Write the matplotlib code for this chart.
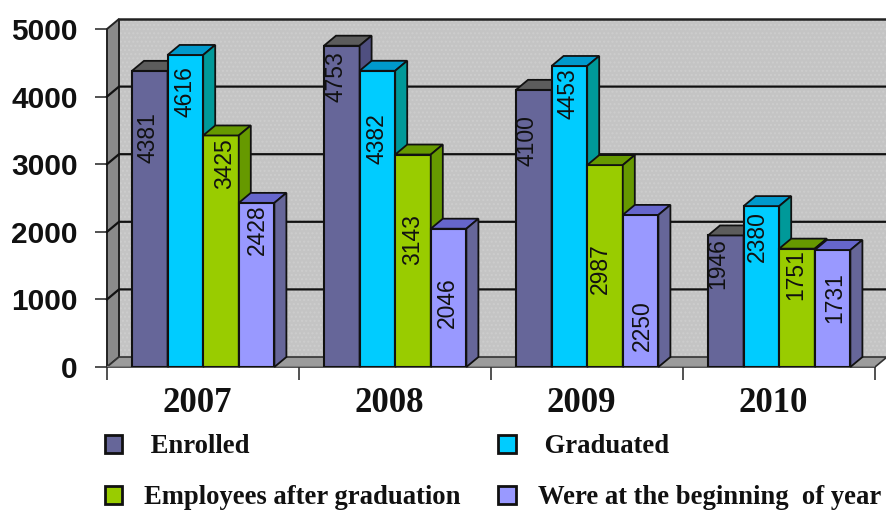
import matplotlib
matplotlib.use("Agg")
import matplotlib.pyplot as plt
from matplotlib.patches import Polygon

years = ["2007", "2008", "2009", "2010"]
enrolled = [4381, 4753, 4100, 1946]
graduated = [4616, 4382, 4453, 2380]
employees = [3425, 3143, 2987, 1751]
at_start = [2428, 2046, 2250, 1731]
series_names = [" Enrolled", "Employees after graduation", " Graduated", "Were at the beginning  of year"]

# distance in pixels from each bar top to the centre of its rotated label
label_drop = {
    "enrolled": [67, 31, 51, 28],
    "graduated": [37, 68, 28, 30],
    "employees": [28, 85, 104, 26],
    "at_start": [27, 74, 111, 48],
}
# sideways pixel shift of each rotated label from its bar centre
label_shift = {
    "enrolled": [-2, -6, -7, -8],
    "graduated": [0, 0, -1, -4],
    "employees": [4, 0, -5, -1],
    "at_start": [1, -1, 2, 2],
}

W, H = 886, 511
X0, X1, Y0, Y5 = 107, 875, 367, 29
DX_PX, DY_PX = 12, 10

fig = plt.figure(figsize=(W / 100, H / 100), dpi=100, facecolor="white")
ax = fig.add_axes([X0 / W, 1 - Y0 / H, (X1 - X0) / W, (Y0 - Y5) / H])
ax.set_xlim(0, 4)
ax.set_ylim(0, 5000)
ax.patch.set_visible(False)
for s in ax.spines.values():
    s.set_visible(False)

dx = 4 * DX_PX / (X1 - X0)
dy = 5000 * DY_PX / (Y0 - Y5)
py = 5000 / (Y0 - Y5)
px = 4 / (X1 - X0)

# box walls
ax.add_patch(Polygon([(dx, dy), (4 + dx, dy), (4 + dx, 5000 + dy), (dx, 5000 + dy)], closed=True,
                     facecolor="#c4c4c4", edgecolor="#cdcdcd", lw=0, zorder=1, clip_on=False, hatch="...."))
ax.plot([dx, 4 + dx], [5000 + dy] * 2, color="#222222", lw=1.8, zorder=2, clip_on=False)
ax.add_patch(Polygon([(0, 0), (dx, dy), (dx, 5000 + dy), (0, 5000)], closed=True,
                     facecolor="#8a8a8a", edgecolor="#222222", lw=1.4, zorder=2, clip_on=False))
ax.add_patch(Polygon([(0, 0), (4, 0), (4 + dx, dy), (dx, dy)], closed=True,
                     facecolor="#9c9c9c", edgecolor="#333333", lw=1.2, zorder=2, clip_on=False))
for v in range(1000, 5000, 1000):
    ax.plot([0, dx, 4 + dx], [v, v + dy, v + dy], color="#111111", lw=1.6, zorder=2, clip_on=False)

# bars
styles = [
    ("enrolled", enrolled, "#666699", "#5c5c5c", "#4f4f80"),
    ("graduated", graduated, "#00ccff", "#0099cc", "#009999"),
    ("employees", employees, "#99cc00", "#669900", "#669900"),
    ("at_start", at_start, "#9999ff", "#6666cc", "#666699"),
]
bar_w = 35.6 / 192
start = 25 / 192
z = 3
handles = []
for g in range(4):
    for k, (key, vals, front, top, side) in enumerate(styles):
        x = g + start + k * bar_w
        v = vals[g]
        b = ax.bar(x, v, width=bar_w, align="edge", color=front, edgecolor="#111111", lw=1.5, zorder=z)
        if g == 0:
            handles.append(b[0])
        ax.add_patch(Polygon([(x, v), (x + bar_w, v), (x + bar_w + dx, v + dy), (x + dx, v + dy)], closed=True,
                             facecolor=top, edgecolor="#111111", lw=1.3, zorder=z, clip_on=False))
        ax.add_patch(Polygon([(x + bar_w, 0), (x + bar_w + dx, dy), (x + bar_w + dx, v + dy), (x + bar_w, v)],
                             closed=True, facecolor=side, edgecolor="#111111", lw=1.3, zorder=z, clip_on=False))
        ax.text(x + bar_w / 2 + label_shift[key][g] * px, v - label_drop[key][g] * py, str(v), rotation=90,
                ha="center", va="center", fontsize=16.5, family="Liberation Sans", color="#111111", zorder=z + 1)
        z += 1

ax.set_yticks(range(0, 5001, 1000))
ax.set_xticks(range(0, 5))
ax.set_xticklabels([])
ax.tick_params(axis="both", length=9, width=1.2, color="#333333")
ax.tick_params(axis="y", pad=12)
for lb in ax.get_yticklabels():
    lb.set_fontsize(21.5)
    lb.set_fontweight("bold")
    lb.set_family("Liberation Sans")
    lb.set_color("#111111")
for i, yr in enumerate(years):
    ax.text(i + 0.5 - 0.03, -36 * py, yr, ha="center", va="center", fontsize=25, fontweight="bold",
            family="Liberation Serif", color="#111111", clip_on=False)
ax.axhline(0, color="#777777", lw=1.5, zorder=2)

order = [handles[0], handles[2], handles[1], handles[3]]
leg = fig.legend(order, series_names, ncol=2, loc="upper left", bbox_to_anchor=(105 / W, 1 - 434 / H),
                 frameon=False, borderaxespad=0, borderpad=0,
                 prop={"family": "Liberation Serif", "weight": "bold", "size": 19.2},
                 handlelength=0.65, handleheight=0.65, handletextpad=0.83, columnspacing=1.4, labelspacing=0.98)
for h in leg.legend_handles:
    h.set_linewidth(2)
for t in leg.get_texts():
    t.set_color("#111111")

fig.savefig("out.png", dpi=100)
